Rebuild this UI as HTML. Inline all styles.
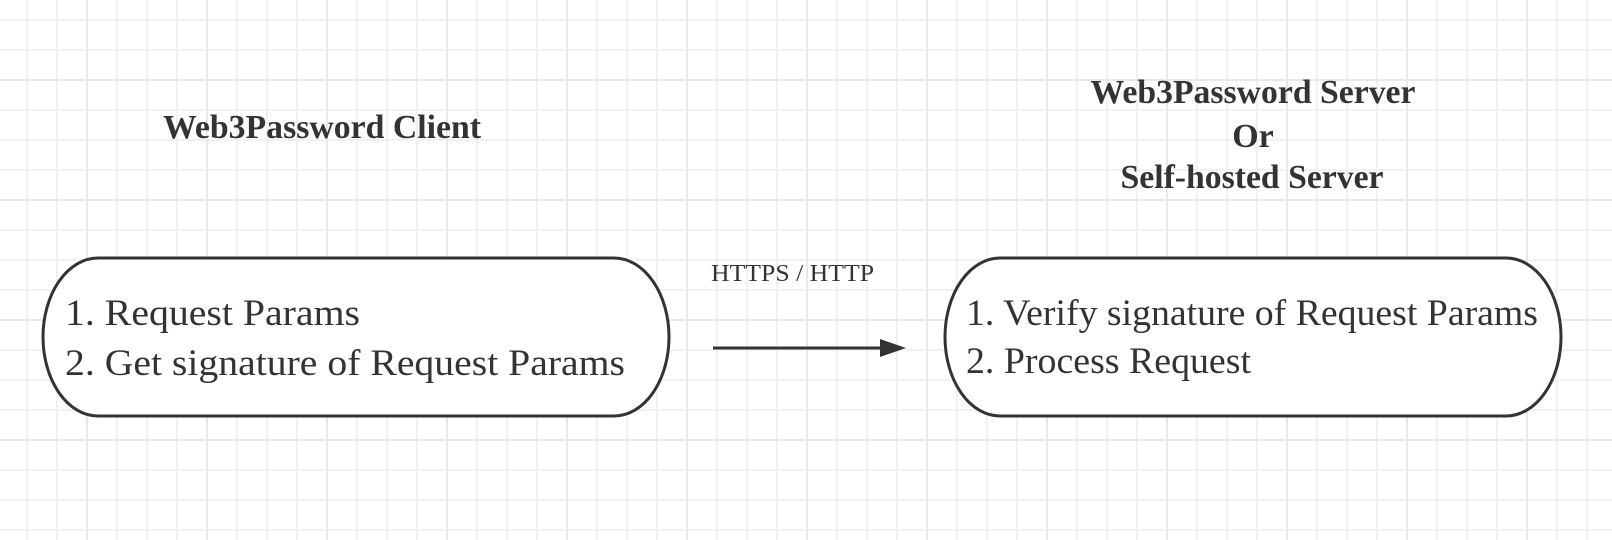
<!DOCTYPE html>
<html><head><meta charset="utf-8"><style>
html,body{margin:0;padding:0;background:#fff;}
svg{display:block;}
text{font-family:"Liberation Serif","Times New Roman",serif;}
</style></head><body>
<svg width="1612" height="540" viewBox="0 0 1612 540" xmlns="http://www.w3.org/2000/svg">
<defs>
<pattern id="minor" x="26" y="19" width="30" height="30" patternUnits="userSpaceOnUse">
<path d="M0 1H30M1 0V30" stroke="#f1f1f1" stroke-width="2" fill="none"/>
</pattern>
<pattern id="major" x="86" y="79" width="120" height="120" patternUnits="userSpaceOnUse">
<path d="M0 1H120M1 0V120" stroke="#e8e8e8" stroke-width="2" fill="none"/>
</pattern>
</defs>
<rect width="1612" height="540" fill="#fff"/>
<rect width="1612" height="540" fill="url(#minor)"/>
<rect width="1612" height="540" fill="url(#major)"/>

<g fill="#333">
<text x="163" y="138" font-size="34" font-weight="bold" textLength="318" lengthAdjust="spacingAndGlyphs">Web3Password Client</text>
<text x="1253" y="103" font-size="34" font-weight="bold" text-anchor="middle" textLength="325" lengthAdjust="spacingAndGlyphs">Web3Password Server</text>
<text x="1253" y="147" font-size="34" font-weight="bold" text-anchor="middle">Or</text>
<text x="1252" y="188" font-size="34" font-weight="bold" text-anchor="middle" textLength="263" lengthAdjust="spacingAndGlyphs">Self-hosted Server</text>
<text x="711" y="281" font-size="24" textLength="163" lengthAdjust="spacingAndGlyphs">HTTPS / HTTP</text>
</g>

<rect x="43" y="258" width="626" height="158" rx="55" ry="79" fill="#fff" stroke="#333" stroke-width="3"/>
<rect x="945" y="258" width="616" height="158" rx="55" ry="79" fill="#fff" stroke="#333" stroke-width="3"/>

<g fill="#333" font-size="37">
<text x="65" y="325" textLength="295" lengthAdjust="spacingAndGlyphs">1. Request Params</text>
<text x="65" y="375" textLength="560" lengthAdjust="spacingAndGlyphs">2. Get signature of Request Params</text>
<text x="966" y="325" textLength="572" lengthAdjust="spacingAndGlyphs">1. Verify signature of Request Params</text>
<text x="966" y="373" textLength="285" lengthAdjust="spacingAndGlyphs">2. Process Request</text>
</g>

<line x1="713" y1="348" x2="882" y2="348" stroke="#333" stroke-width="3"/>
<polygon points="880,339 906,348 880,357" fill="#333"/>
</svg>
</body></html>
